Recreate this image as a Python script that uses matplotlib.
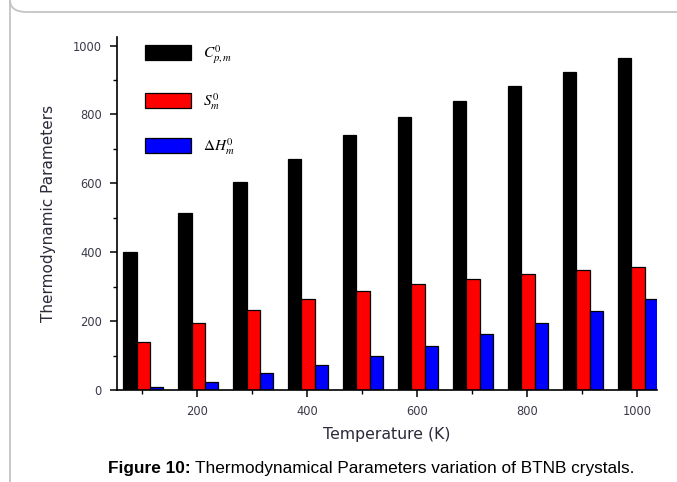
import matplotlib
matplotlib.use("Agg")
import matplotlib.pyplot as plt
import numpy as np
from matplotlib.patches import FancyBboxPatch

temperatures = [100, 200, 300, 400, 500, 600, 700, 800, 900, 1000]
cp_values = [400, 515, 604, 672, 739, 792, 838, 883, 924, 963]
s_values = [139, 194, 233, 263, 288, 308, 323, 338, 347, 358]
h_values = [9, 24, 48, 73, 98, 127, 163, 194, 228, 263]
series_labels = [r'$C^0_{p,m}$', r'$S^0_m$', r'$\Delta H^0_m$']
series_colors = ['#000000', '#ff0000', '#0000ff']
x_ticks = [200, 400, 600, 800, 1000]
y_ticks = [0, 200, 400, 600, 800, 1000]

plt.rcParams['font.family'] = ['Liberation Sans', 'DejaVu Sans']
plt.rcParams['mathtext.fontset'] = 'stix'

W, H = 677, 482
fig = plt.figure(figsize=(W / 100, H / 100), dpi=100)

# rounded frame (only left/top visible)
frame = FancyBboxPatch((10 / W, 1 - 12 / H), 1.2, -1.2,
                       boxstyle="round,pad=0,rounding_size=0.025",
                       transform=fig.transFigure, fill=False,
                       edgecolor='#c4c4c4', linewidth=1.3)
fig.patches.append(frame)

ax = fig.add_axes([117 / W, 1 - 390 / H, (657 - 117) / W, (390 - 37) / H])

t = np.array(temperatures, dtype=float)
width = 24
offsets = [-22.5, 1.5, 25.5]
for vals, col, lab, off in zip([cp_values, s_values, h_values], series_colors,
                               series_labels, offsets):
    ax.bar(t + off, vals, width=width, color=col, edgecolor='black',
           linewidth=0.9, label=lab, zorder=2)

ax.set_xlim(54, 1036)
ax.set_ylim(0, 1025)
for s in ['top', 'right']:
    ax.spines[s].set_visible(False)
for s in ['left', 'bottom']:
    ax.spines[s].set_linewidth(1.2)

tick_color = '#3a3a4a'
ax.set_xticks(x_ticks)
ax.set_xticks([100, 300, 500, 700, 900], minor=True)
ax.set_yticks(y_ticks)
ax.set_yticks([100, 300, 500, 700, 900], minor=True)
ax.tick_params(which='major', direction='out', length=5, width=1.1,
               labelsize=8.3, labelcolor=tick_color, pad=6)
ax.tick_params(which='minor', direction='out', length=3, width=1.0)
for lbl in ax.get_xticklabels() + ax.get_yticklabels():
    lbl.set_family('DejaVu Sans')

ax.set_xlabel('Temperature (K)', fontsize=11.3, color='#2a2a3a', labelpad=6,
              family='DejaVu Sans')
ax.set_ylabel('Thermodynamic Parameters', fontsize=11, color='#2a2a3a',
              labelpad=12, family='DejaVu Sans')

leg = ax.legend(loc='upper left', bbox_to_anchor=(0.032, 1.013), frameon=False,
                fontsize=11, handlelength=3.0, handleheight=1.15,
                labelspacing=1.63, handletextpad=0.8, borderaxespad=0.3)

# caption
fig.canvas.draw()
r = fig.canvas.get_renderer()
cy = 1 - 468 / H
t1 = fig.text(108 / W, cy, 'Figure 10:', fontsize=12.4, fontweight='bold',
              va='center', ha='left')
bb = t1.get_window_extent(renderer=r)
fig.text((bb.x1 + 4) / W, cy,
         'Thermodynamical Parameters variation of BTNB crystals.',
         fontsize=12.4, va='center', ha='left')

fig.savefig('out.png', dpi=100)
